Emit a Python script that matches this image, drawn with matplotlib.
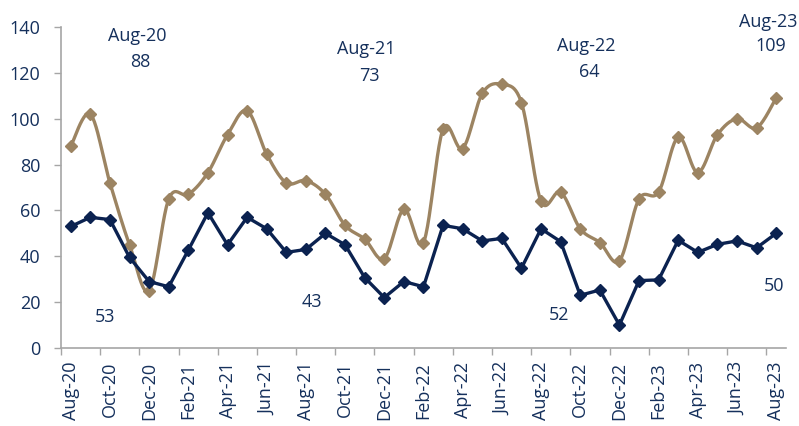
import numpy as np
import matplotlib
matplotlib.use("Agg")
import matplotlib.pyplot as plt

plt.rcParams['font.family'] = ['Open Sans', 'DejaVu Sans']

months = ["Aug-20", "Sep-20", "Oct-20", "Nov-20", "Dec-20", "Jan-21", "Feb-21", "Mar-21",
          "Apr-21", "May-21", "Jun-21", "Jul-21", "Aug-21", "Sep-21", "Oct-21", "Nov-21",
          "Dec-21", "Jan-22", "Feb-22", "Mar-22", "Apr-22", "May-22", "Jun-22", "Jul-22",
          "Aug-22", "Sep-22", "Oct-22", "Nov-22", "Dec-22", "Jan-23", "Feb-23", "Mar-23",
          "Apr-23", "May-23", "Jun-23", "Jul-23", "Aug-23"]

tan_series = [88, 102, 72, 45, 25, 65, 67, 76.5, 93, 103.5, 84.5, 72, 73, 67, 53.5, 47.5,
              39, 60.5, 46, 95.5, 87, 111, 115, 107, 64, 68, 52, 46, 38, 65, 68, 92,
              76.5, 93, 100, 96, 109]
navy_series = [53, 57, 56, 39.5, 29, 26.7, 42.7, 59, 45, 57, 52, 41.7, 43, 50, 45, 30.7,
               22, 29, 26.7, 53.5, 52, 46.7, 47.8, 34.8, 52, 46.4, 23, 25.3, 10, 29.4, 29.7,
               47, 41.7, 45.2, 46.7, 43.7, 50]

highlight_idx = [0, 12, 24, 36]

TAN = "#9C8462"
NAVY = "#0B2250"
TEXT = "#15305C"
AXIS = "#A6A6A6"
FS = 13


def smooth_curve(x, y, n=24):
    """Cubic Bezier spline through every point (Catmull-Rom style tangents)."""
    x = np.asarray(x, float)
    y = np.asarray(y, float)
    px = np.concatenate([[x[0]], x, [x[-1]]])
    py = np.concatenate([[y[0]], y, [y[-1]]])
    xs, ys = [], []
    t = np.linspace(0, 1, n, endpoint=False)
    for i in range(len(x) - 1):
        p0 = np.array([px[i + 1], py[i + 1]])
        p3 = np.array([px[i + 2], py[i + 2]])
        p1 = p0 + (np.array([px[i + 2], py[i + 2]]) - np.array([px[i], py[i]])) / 6
        p2 = p3 - (np.array([px[i + 3], py[i + 3]]) - np.array([px[i + 1], py[i + 1]])) / 6
        b = ((1 - t) ** 3)[:, None] * p0 + (3 * (1 - t) ** 2 * t)[:, None] * p1 \
            + (3 * (1 - t) * t ** 2)[:, None] * p2 + (t ** 3)[:, None] * p3
        xs.append(b[:, 0])
        ys.append(b[:, 1])
    xs.append([x[-1]])
    ys.append([y[-1]])
    return np.concatenate(xs), np.concatenate(ys)


fig = plt.figure(figsize=(7.99, 4.26), dpi=100)
ax = fig.add_axes([0.0763, 0.1831, 0.9074, 0.7535])

x = np.arange(len(months))

sx, sy = smooth_curve(x, tan_series)
ax.plot(sx, sy, color=TAN, lw=2.4, solid_capstyle='round', zorder=2)
ax.plot(x, tan_series, ls='none', marker='D', ms=6.5, color=TAN, zorder=3)

ax.plot(x, navy_series, color=NAVY, lw=2.4, marker='D', ms=6.5, zorder=4,
        solid_joinstyle='miter')

ax.set_xlim(-0.5, len(months) - 0.5)
ax.set_ylim(0, 140)
ax.set_yticks(np.arange(0, 141, 20))
ax.tick_params(axis='y', colors=AXIS, labelcolor=TEXT, labelsize=FS, length=5,
               width=1, direction='out', pad=10)

# tick marks on category boundaries, labels on category centres
ax.set_xticks(np.arange(-0.5, len(months) - 1, 2))
ax.set_xticklabels([])
ax.set_xticks(x[::2], minor=True)
ax.set_xticklabels(months[::2], minor=True, rotation=90)
ax.tick_params(axis='x', which='major', colors=AXIS, length=5, width=1)
ax.tick_params(axis='x', which='minor', length=0, labelcolor=TEXT, labelsize=FS, pad=10)

for side in ['top', 'right']:
    ax.spines[side].set_visible(False)
for side in ['left', 'bottom']:
    ax.spines[side].set_color(AXIS)
    ax.spines[side].set_linewidth(1.2)

# callouts for each August
tan_pos = [(3.4, 136.0, 124.7), (15.1, 130.4, 118.6), (26.3, 131.7, 120.4), (35.6, 142.2, 131.7)]
navy_pos = [(1.75, 13.5), (12.3, 20.1), (24.9, 14.4), (35.9, 27.0)]
for k, idx in enumerate(highlight_idx):
    tx, ty1, ty2 = tan_pos[k]
    ax.text(tx, ty1, months[idx], ha='center', va='center', fontsize=FS,
            color=TEXT, clip_on=False)
    ax.text(tx + 0.15, ty2, f"{tan_series[idx]:g}", ha='center', va='center',
            fontsize=FS, color=TEXT, clip_on=False)
    nx, ny = navy_pos[k]
    ax.text(nx, ny, f"{navy_series[idx]:g}", ha='center', va='center',
            fontsize=FS, color=TEXT, clip_on=False)

fig.savefig("out.png", dpi=100)
